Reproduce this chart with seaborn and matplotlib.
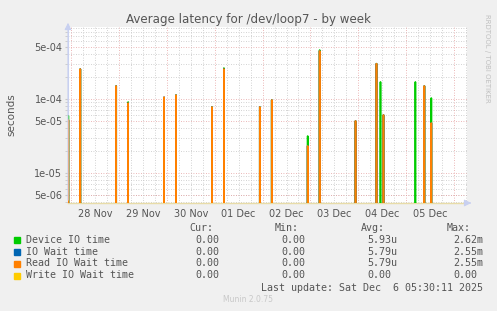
import numpy as np
import pandas as pd
import seaborn as sns
import matplotlib
matplotlib.use("Agg")
import matplotlib.pyplot as plt
from matplotlib.ticker import FixedLocator, NullFormatter

# ---------------- data ----------------
day_labels = ["28 Nov", "29 Nov", "30 Nov", "01 Dec", "02 Dec", "03 Dec", "04 Dec", "05 Dec"]
day_label_pos = [1.5, 2.5, 3.5, 4.5, 5.5, 6.5, 7.5, 8.5]   # days since 27 Nov 00:00 (noon)
ytick_values = [5e-6, 1e-5, 5e-5, 1e-4, 5e-4]
ytick_labels = ["5e-06", "1e-05", "5e-05", "1e-04", "5e-04"]

spike_day = [0.94, 1.20, 1.95, 2.20, 2.95, 3.20, 3.95, 4.20, 4.95, 5.20,
             5.95, 6.20, 6.95, 7.37, 7.47, 7.53, 8.20, 8.37, 8.53]
device_io = [5.9e-5, 2.54e-4, 1.50e-4, 9.1e-5, 7.8e-6, 1.13e-4, 7.8e-5, 2.62e-4, 7.8e-5, 9.7e-5,
             3.16e-5, 4.59e-4, 5.05e-5, 3.0e-4, 1.70e-4, 6.08e-5, 1.70e-4, 1.50e-4, 1.03e-4]
read_wait = [5.2e-5, 2.54e-4, 1.50e-4, 8.8e-5, 1.06e-4, 1.13e-4, 7.8e-5, 2.54e-4, 7.8e-5, 9.7e-5,
             2.32e-5, 4.46e-4, 5.05e-5, 3.0e-4, 0.0, 6.08e-5, 0.0, 1.50e-4, 4.74e-5]
io_wait = list(read_wait)
write_wait = [0.0] * len(spike_day)

series_names = ["Device IO time", "IO Wait time", "Read IO Wait time", "Write IO Wait time"]
series_colors = ["#00cc00", "#0066b3", "#ff8000", "#ffcc00"]
cur_vals = ["0.00 ", "0.00 ", "0.00 ", "0.00 "]
min_vals = ["0.00 ", "0.00 ", "0.00 ", "0.00 "]
avg_vals = ["5.93u", "5.79u", "5.79u", "0.00 "]
max_vals = ["2.62m", "2.55m", "2.55m", "0.00 "]

t_start, t_end = 0.90, 9.23
x_left = 0.935
step = 1.0 / 48.0  # 30-minute samples

# ---------------- build time series ----------------
grid_t = np.arange(t_start, t_end, step)
frames = []
for name, vals in zip(series_names, [device_io, io_wait, read_wait, write_wait]):
    v = np.zeros_like(grid_t)
    for d, val in zip(spike_day, vals):
        v[int(round((d - t_start) / step))] = val
    frames.append(pd.DataFrame({"t": grid_t, "v": v, "series": name}))
df = pd.concat(frames, ignore_index=True)

# ---------------- figure ----------------
W, H = 497, 311
fig = plt.figure(figsize=(W / 100, H / 100), dpi=100, facecolor="#f0f0f0")
L, R, T, B = 68, 467, 27, 203
ax = fig.add_axes([L / W, (H - B) / H, (R - L) / W, (B - T) / H])
ax.set_facecolor("white")

ax.set_yscale("log", nonpositive="clip")
ax.set_ylim(3.93e-6, 9.4e-4)
ax.set_xlim(x_left, t_end + 0.04)

# grid
minor_y = [m * 10.0 ** e for e in range(-6, -2) for m in range(2, 10)]
minor_y = [y for y in minor_y if y not in ytick_values]
for y in minor_y:
    ax.axhline(y, color="#c4c4c4", lw=0.6, ls=(0, (1, 2)), zorder=0)
for y in ytick_values:
    ax.axhline(y, color="#e6a0a0", lw=0.6, ls=(0, (1, 2)), zorder=0)
for x in np.arange(1, 9.5, 0.25):
    if abs(x - round(x)) < 1e-9:
        ax.axvline(x, color="#e6a0a0", lw=0.6, ls=(0, (1, 2)), zorder=0)
    else:
        ax.axvline(x, color="#c4c4c4", lw=0.6, ls=(0, (1, 2)), zorder=0)

sns.lineplot(data=df, x="t", y="v", hue="series", hue_order=series_names,
             palette=series_colors, lw=1.2, legend=False, ax=ax,
             estimator=None, sort=True, zorder=3)

ax.yaxis.set_major_locator(FixedLocator(ytick_values))
ax.set_yticklabels(ytick_labels)
ax.yaxis.set_minor_formatter(NullFormatter())
ax.tick_params(axis="y", which="both", length=2, color="#c8c8c8", labelsize=7, labelcolor="#555555", pad=2)
ax.set_xticks(day_label_pos)
ax.set_xticklabels(day_labels)
ax.tick_params(axis="x", length=0, labelsize=7, labelcolor="#555555", pad=4)
ax.set_xlabel("")
ax.set_ylabel("seconds", fontsize=7.5, color="#555555", labelpad=13)

for s in ["top", "right"]:
    ax.spines[s].set_visible(False)
ax.spines["left"].set_color("#c8d0f0")
ax.spines["bottom"].set_color("#e8dca8")
ax.spines["left"].set_linewidth(0.8)
ax.spines["bottom"].set_linewidth(1.0)

# axis arrows
ax.annotate("", xy=(L / W, (H - 20) / H), xytext=(L / W, (H - B) / H), xycoords="figure fraction",
            arrowprops=dict(arrowstyle="-|>,head_length=0.4,head_width=0.2", color="#c8d0f0", lw=0.8))
ax.annotate("", xy=(474 / W, (H - B) / H), xytext=(R / W, (H - B) / H), xycoords="figure fraction",
            arrowprops=dict(arrowstyle="-|>,head_length=0.4,head_width=0.2", color="#c8d0f0", lw=0.8))

def fx(px):
    return px / W

def fy(py):
    return (H - py) / H

fig.text(fx(248), fy(19), "Average latency for /dev/loop7 - by week", ha="center", va="center",
         fontsize=8.6, color="#555555")
fig.text(fx(487), fy(58), "RRDTOOL / TOBI OETIKER", rotation=270, ha="center", va="center",
         fontsize=5, color="#c0c0c0")

mono = "DejaVu Sans Mono"
fs = 7.2
hdr_y = 228
for txt, xr in zip(["Cur:", "Min:", "Avg:", "Max:"], [213, 299, 385, 471]):
    fig.text(fx(xr), fy(hdr_y), txt, ha="right", va="center", family=mono, fontsize=fs, color="#555555")

row_y = [240, 252, 263.5, 275.5]
char_w = 6.0
for i, name in enumerate(series_names):
    y = row_y[i]
    fig.patches.append(plt.Rectangle((fx(14), fy(y + 3)), 6 / W, 6 / H, transform=fig.transFigure,
                                     color=series_colors[i], figure=fig))
    fig.text(fx(26), fy(y), name, ha="left", va="center", family=mono, fontsize=fs, color="#555555")
    for vals, xr in zip([cur_vals, min_vals, avg_vals, max_vals], [225, 311, 397.5, 483]):
        s = vals[i]
        shift = char_w if s.endswith(" ") else 0
        fig.text(fx(xr - shift), fy(y), s.rstrip(), ha="right", va="center", family=mono,
                 fontsize=fs, color="#555555")

fig.text(fx(483), fy(288), "Last update: Sat Dec  6 05:30:11 2025", ha="right", va="center",
         family=mono, fontsize=fs, color="#555555")
fig.text(fx(248), fy(300), "Munin 2.0.75", ha="center", va="center", fontsize=5.5, color="#c8c8c8")

fig.savefig("out.png", dpi=100, facecolor=fig.get_facecolor())
